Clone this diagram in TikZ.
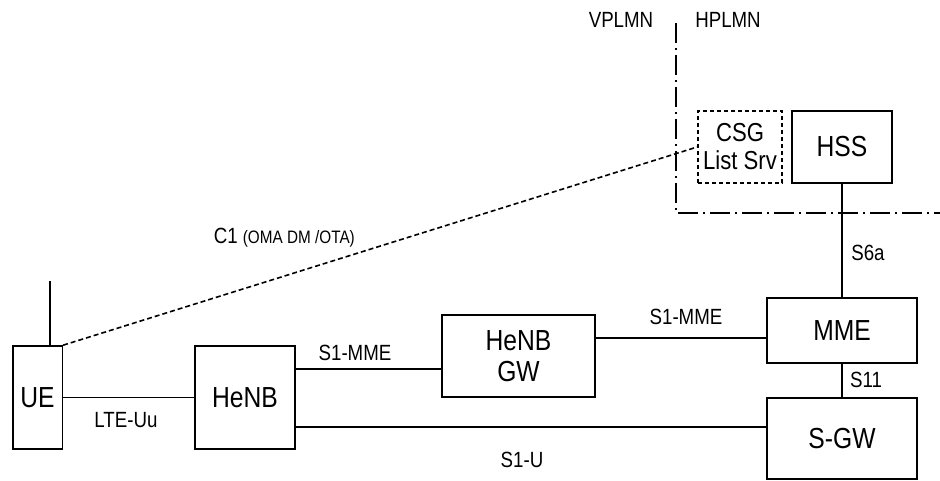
\documentclass[tikz,border=0pt]{standalone}
\usepackage{fontspec}
\setmainfont{Liberation Sans}[FakeStretch=0.85]
\usetikzlibrary{positioning}
\tikzset{
  box/.style={draw, line width=1.6pt, inner sep=0pt, align=center,
    font=\fontsize{29}{31}\selectfont},
  lbl/.style={font=\fontsize{22}{24}\selectfont, inner sep=0pt},
  border/.style={line width=2.2pt, dash pattern=on 20pt off 5pt on 2pt off 5pt}
}
\begin{document}
\begin{tikzpicture}[x=1pt,y=-1pt,line width=1.6pt]
	\useasboundingbox (0,0) rectangle (940,481);
	% network elements
	\node[box, minimum width=49.6pt, minimum height=103pt] (UE) at (37.5,397.5) {UE};
	\node[box, minimum width=100pt, minimum height=103pt] (HeNB) at (245,397.5) {HeNB};
	\node[box, minimum width=153pt, minimum height=82pt] (HeNBGW) at (518.5,356) {HeNB\\GW};
	\node[box, minimum width=150pt, minimum height=65pt] (MME) at (842,330.5) {MME};
	\node[box, minimum width=150pt, minimum height=81pt] (SGW) at (842,438.5) {S-GW};
	\node[box, minimum width=100pt, minimum height=72pt] (HSS) at (842,147) {HSS};
	\node[box, dash pattern=on 4pt off 3pt, minimum width=84pt, minimum height=72pt,
	  font=\fontsize{26}{28}\selectfont] (CSG) at (740,147) {CSG\\List Srv};
	% PLMN border
	\draw[border] (676,23) -- (676,213) -- (940,213);
	\node[lbl] (VPLMN) at (621,20) {VPLMN};
	\node[lbl] (HPLMN) at (728,20) {HPLMN};
	% antenna
	\coordinate (ant) at ([xshift=12.5pt]UE.north);
	\draw (ant) -- ++(0,-64);
	% interfaces
	\draw (UE.east) -- (HeNB.west);
	\draw ([yshift=28.5pt]HeNB.east) -- ([yshift=28.5pt]HeNB.east -| HeNBGW.west);
	\draw ([yshift=-7.5pt]MME.west -| HeNBGW.east) -- ([yshift=-7.5pt]MME.west);
	\draw ([yshift=-29.5pt]HeNB.east) -- ([yshift=-29.5pt]HeNB.east -| SGW.west);
	\draw (HSS.south) -- (MME.north);
	\draw (MME.south) -- (SGW.north);
	\draw[line width=1.6pt, dash pattern=on 5pt off 3pt] (UE.north east) -- (CSG.west);
	% interface labels
	\node[lbl] (LTEUu) at (126,420) {LTE-Uu};
	\node[lbl] (S1MMEa) at (355,353) {S1-MME};
	\node[lbl] (S1MMEb) at (686,317) {S1-MME};
	\node[lbl] (S1U) at (522,460) {S1-U};
	\node[lbl] (S6a) at (868,253) {S6a};
	\node[lbl] (S11) at (866,380) {S11};
	\node[lbl, anchor=west] (C1) at (213,238) {C1 {\fontsize{18}{20}\selectfont (OMA DM /OTA)}};
\end{tikzpicture}
\end{document}
